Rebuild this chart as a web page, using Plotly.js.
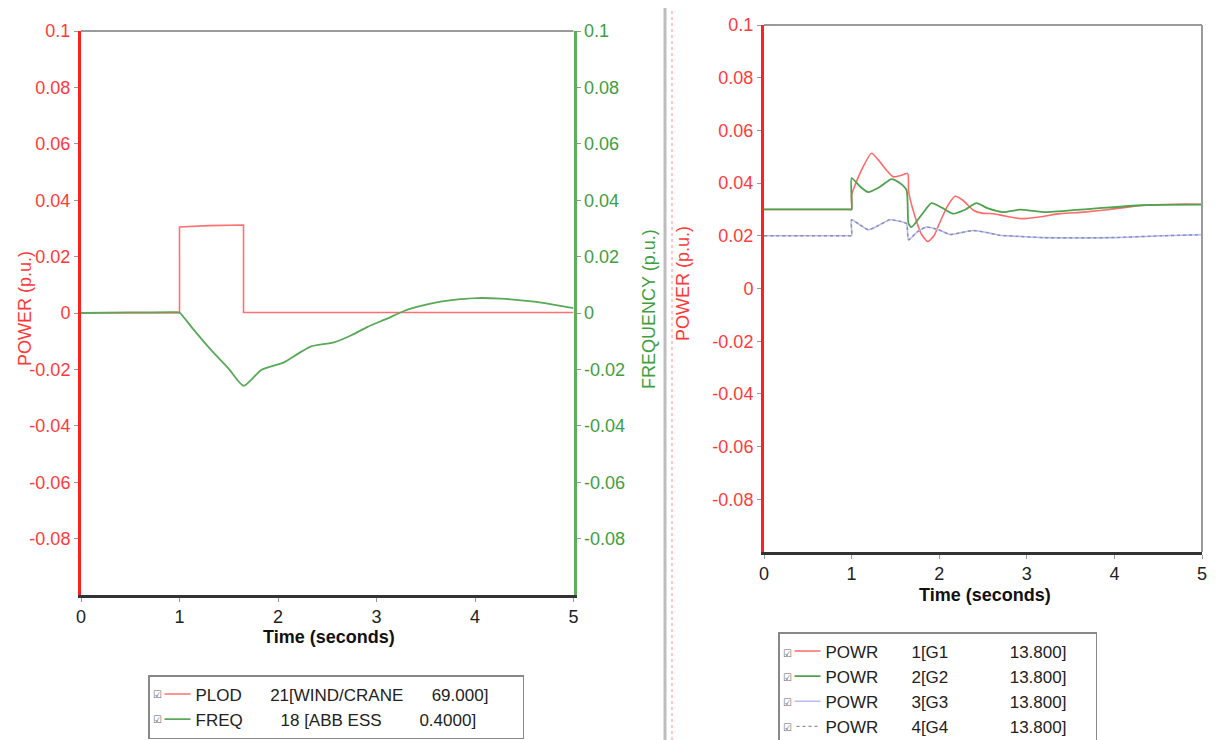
<!DOCTYPE html>
<html>
<head>
<meta charset="utf-8">
<script src="https://cdn.plot.ly/plotly-3.0.1.min.js"></script>
<style>html,body{margin:0;padding:0;background:#fff;overflow:hidden;}#chart{width:1225px;height:740px;}</style>
</head>
<body>
<div id="chart"></div>
<script>
// ---------- data ----------
// Left panel
const plodT = [0, 1.0, 1.0, 1.3, 1.65, 1.65, 5.0];
const plodV = [0, 0, 0.0305, 0.031, 0.0312, 0.0002, 0.0002];

const freqT = [0, 0.5, 0.97, 1.0, 1.12, 1.32, 1.5, 1.65, 1.83, 2.06, 2.2, 2.33, 2.57, 2.75, 2.91, 3.1, 3.28, 3.45, 3.65, 3.85, 4.02, 4.26, 4.6, 5.0];
const freqV = [0, 0.0002, 0.0003, 0.0002, -0.0049, -0.0131, -0.0198, -0.0258, -0.0202, -0.0175, -0.0145, -0.0119, -0.0104, -0.0078, -0.0049, -0.0021, 0.0007, 0.0025, 0.004, 0.0049, 0.0053, 0.0051, 0.004, 0.0017];

// Right panel
const g1T = [0, 0.5, 0.98, 1.0, 1.0, 1.1, 1.228, 1.3, 1.399, 1.474, 1.55, 1.64, 1.65, 1.70, 1.80, 1.87, 1.94, 2.0, 2.09, 2.18, 2.27, 2.39, 2.5, 2.62, 2.75, 2.94, 3.15, 3.38, 3.65, 3.95, 4.33, 4.7, 5.0];
const g1V = [0.03, 0.03, 0.03, 0.03, 0.0354, 0.044, 0.0513, 0.049, 0.0449, 0.0424, 0.0428, 0.0436, 0.037, 0.030, 0.0205, 0.0178, 0.020, 0.0245, 0.031, 0.035, 0.0335, 0.0297, 0.0285, 0.0284, 0.0275, 0.0265, 0.0272, 0.0284, 0.029, 0.030, 0.0316, 0.032, 0.032];

const g2T = [0, 0.5, 0.98, 1.0, 1.0, 1.1, 1.189, 1.32, 1.456, 1.55, 1.627, 1.65, 1.684, 1.8, 1.912, 2.04, 2.158, 2.3, 2.425, 2.55, 2.729, 2.919, 3.223, 3.755, 4.325, 5.0];
const g2V = [0.03, 0.03, 0.03, 0.03, 0.0419, 0.0386, 0.0366, 0.0385, 0.0415, 0.040, 0.0373, 0.0246, 0.0233, 0.028, 0.0324, 0.0305, 0.0284, 0.030, 0.0324, 0.0305, 0.029, 0.0299, 0.029, 0.0303, 0.0316, 0.0318];

const g3T = [0, 0.5, 0.98, 1.0, 1.0, 1.08, 1.189, 1.3, 1.437, 1.55, 1.627, 1.65, 1.75, 1.855, 2.0, 2.121, 2.25, 2.387, 2.55, 2.691, 2.9, 3.19, 3.96, 4.54, 5.0];
const g3V = [0.02, 0.02, 0.02, 0.02, 0.0261, 0.0245, 0.0223, 0.0238, 0.0261, 0.0255, 0.0246, 0.0185, 0.0215, 0.0233, 0.0222, 0.0205, 0.0212, 0.022, 0.0212, 0.0202, 0.0198, 0.0193, 0.0193, 0.020, 0.0204];
const g4T = g3T;
const g4V = g3V;

// Tick labels
const xTicks = [0, 1, 2, 3, 4, 5];
const yTickVals = [-0.08, -0.06, -0.04, -0.02, 0, 0.02, 0.04, 0.06, 0.08, 0.1];
const yTickText = ["-0.08", "-0.06", "-0.04", "-0.02", "0", "0.02", "0.04", "0.06", "0.08", "0.1"];

// Legend names
const nb = s => s.replace(/ /g, "\u00a0");
const names = {
  plod: nb("PLOD      21[WIND/CRANE      69.000]      "),
  freq: nb("FREQ        18 [ABB ESS        0.4000]"),
  g1: nb("POWR       1[G1             13.800]     "),
  g2: nb("POWR       2[G2             13.800]"),
  g3: nb("POWR       3[G3             13.800]"),
  g4: nb("POWR       4[G4             13.800]")
};

// ---------- styling ----------
const FONT = "Liberation Sans, Arial, sans-serif";
const RED = "#ff2020", REDTXT = "#ff3a3a";
const GREEN = "#5cb05c", GREENTXT = "#3f9e3f";
const W = 1225, H = 740;
const px = v => v / W, py = v => 1 - v / H;
const SPL = {shape: "spline", smoothing: 0.6};

const traces = [
  {x: plodT, y: plodV, xaxis: "x", yaxis: "y", mode: "lines", name: names.plod, legend: "legend",
   line: {color: "#ff7070", width: 1.6}},
  {x: freqT, y: freqV, xaxis: "x", yaxis: "y2", mode: "lines", name: names.freq, legend: "legend",
   line: Object.assign({color: "#5aa85a", width: 1.8}, SPL)},
  {x: g1T, y: g1V, xaxis: "x2", yaxis: "y3", mode: "lines", name: names.g1, legend: "legend2",
   line: Object.assign({color: "#ff6a6a", width: 1.6}, SPL)},
  {x: g2T, y: g2V, xaxis: "x2", yaxis: "y3", mode: "lines", name: names.g2, legend: "legend2",
   line: Object.assign({color: "#4fa24f", width: 1.8}, SPL)},
  {x: g3T, y: g3V, xaxis: "x2", yaxis: "y3", mode: "lines", name: names.g3, legend: "legend2",
   line: Object.assign({color: "#b4bcff", width: 1.6}, SPL)},
  {x: g4T, y: g4V, xaxis: "x2", yaxis: "y3", mode: "lines", name: names.g4, legend: "legend2",
   line: Object.assign({color: "#8f8f9f", width: 1.4, dash: "dot"}, SPL)}
];

const xCommon = {
  range: [0, 5], tickvals: xTicks, ticks: "outside", ticklen: 4, tickcolor: "#999",
  showline: true, linecolor: "#333", linewidth: 2.5, showgrid: false, zeroline: false,
  tickfont: {family: FONT, size: 18, color: "#222"}, fixedrange: true
};
const yCommon = {
  range: [-0.1, 0.1], tickvals: yTickVals, ticktext: yTickText, ticks: "outside", ticklen: 4,
  tickcolor: "#999", showline: true, linewidth: 3, showgrid: false, zeroline: false, fixedrange: true
};

const legendCommon = {
  bgcolor: "#fff", bordercolor: "#888", borderwidth: 1.5, xanchor: "left", yanchor: "top",
  itemwidth: 36,
  font: {family: FONT, size: 17, color: "#222"}, itemclick: false, itemdoubleclick: false
};

const checkbox = (x, y) => ({text: "\u2611", xref: "paper", yref: "paper", x: px(x), y: py(y), showarrow: false,
  xanchor: "center", yanchor: "middle", bgcolor: "#fff", borderpad: 2,
  font: {family: "DejaVu Sans", size: 10, color: "#666"}});

const layout = {
  width: W, height: H, margin: {l: 0, r: 0, t: 0, b: 0, autoexpand: false},
  paper_bgcolor: "#fff", plot_bgcolor: "#fff", showlegend: true,
  font: {family: FONT, size: 18},
  xaxis: Object.assign({}, xCommon, {domain: [px(81), px(573.5)], anchor: "y"}),
  yaxis: Object.assign({}, yCommon, {domain: [py(595), py(31)], anchor: "x", linecolor: RED,
    tickfont: {family: FONT, size: 18, color: REDTXT}}),
  yaxis2: Object.assign({}, yCommon, {domain: [py(595), py(31)], anchor: "x", overlaying: "y", side: "right",
    linecolor: GREEN, tickfont: {family: FONT, size: 18, color: GREENTXT}}),
  xaxis2: Object.assign({}, xCommon, {domain: [px(764), px(1202)], anchor: "y3"}),
  yaxis3: Object.assign({}, yCommon, {domain: [py(552), py(25)], anchor: "x2", linecolor: RED,
    tickfont: {family: FONT, size: 18, color: REDTXT}}),
  legend: Object.assign({}, legendCommon, {x: px(148), y: py(675)}),
  legend2: Object.assign({}, legendCommon, {x: px(778), y: py(632)}),
  shapes: [
    // frame borders
    {type: "line", xref: "x domain", yref: "y domain", x0: 0, x1: 1, y0: 1, y1: 1, line: {color: "#9a9a9a", width: 2}},
    {type: "line", xref: "x2 domain", yref: "y3 domain", x0: 0, x1: 1, y0: 1, y1: 1, line: {color: "#9a9a9a", width: 2}},
    {type: "line", xref: "x2 domain", yref: "y3 domain", x0: 1, x1: 1, y0: 0, y1: 1, line: {color: "#9a9a9a", width: 2}},
    // panel divider
    {type: "line", xref: "paper", yref: "paper", x0: px(665), x1: px(665), y0: 0, y1: py(8), line: {color: "#bdbdbd", width: 3}},
    {type: "line", xref: "paper", yref: "paper", x0: px(672), x1: px(672), y0: 0, y1: py(8), line: {color: "#ff9090", width: 1, dash: "dot"}}
  ],
  annotations: [
    {text: "POWER (p.u.)", xref: "paper", yref: "paper", x: px(25), y: py(309), textangle: -90, showarrow: false,
     xanchor: "center", yanchor: "middle", font: {family: FONT, size: 18, color: REDTXT}},
    {text: "FREQUENCY (p.u.)", xref: "paper", yref: "paper", x: px(649), y: py(309), textangle: -90, showarrow: false,
     xanchor: "center", yanchor: "middle", font: {family: FONT, size: 18, color: GREENTXT}},
    {text: "POWER (p.u.)", xref: "paper", yref: "paper", x: px(683), y: py(284), textangle: -90, showarrow: false,
     xanchor: "center", yanchor: "middle", font: {family: FONT, size: 18, color: REDTXT}},
    {text: "<b>Time (seconds)</b>", xref: "paper", yref: "paper", x: px(329), y: py(637), showarrow: false,
     xanchor: "center", yanchor: "middle", font: {family: FONT, size: 18, color: "#111"}},
    {text: "<b>Time (seconds)</b>", xref: "paper", yref: "paper", x: px(985), y: py(595), showarrow: false,
     xanchor: "center", yanchor: "middle", font: {family: FONT, size: 18, color: "#111"}},
    checkbox(157, 694), checkbox(157, 719),
    checkbox(787, 653), checkbox(787, 677), checkbox(787, 702), checkbox(787, 727)
  ]
};

Plotly.newPlot("chart", traces, layout, {displayModeBar: false, staticPlot: true});
</script>
</body>
</html>
